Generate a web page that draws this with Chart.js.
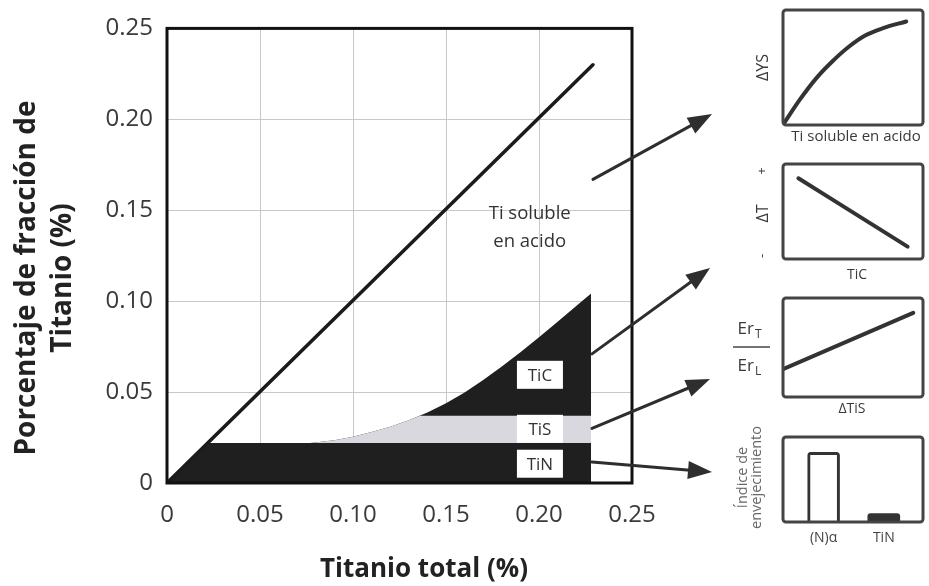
<!DOCTYPE html>
<html>
<head>
<meta charset="utf-8">
<script src="https://cdn.jsdelivr.net/npm/chart.js@4.4.1/dist/chart.umd.min.js"></script>
<style>
html,body{margin:0;padding:0;background:#fff;width:929px;height:586px;overflow:hidden}
canvas{position:absolute}
</style>
</head>
<body>
<canvas id="main" width="929" height="586" style="left:0;top:0"></canvas>
<canvas id="p1" width="209" height="150" style="left:720px;top:0px"></canvas>
<canvas id="p2" width="209" height="140" style="left:720px;top:150px"></canvas>
<canvas id="p3" width="209" height="125" style="left:720px;top:290px"></canvas>
<canvas id="p4" width="209" height="171" style="left:720px;top:415px"></canvas>
<script>
// ---------------- DATA ----------------
const xTickValues = [0, 0.05, 0.10, 0.15, 0.20, 0.25];
const xTickLabels = ['0', '0.05', '0.10', '0.15', '0.20', '0.25'];
const yTickValues = [0, 0.05, 0.10, 0.15, 0.20, 0.25];
const yTickLabels = ['0', '0.05', '0.10', '0.15', '0.20', '0.25'];

// Total Ti line (upper limit of acid-soluble Ti)
const totalTiX = [0, 0.229];
const totalTiY = [0, 0.230];
// TiN band
const tinX = [0, 0.022, 0.228];
const tinY = [0, 0.022, 0.022];
// TiS band (upper boundary)
const tisX = [0.077, 0.09, 0.10, 0.11, 0.12, 0.13, 0.136, 0.228];
const tisY = [0.022, 0.0235, 0.0255, 0.028, 0.031, 0.0345, 0.037, 0.037];
// TiC band (upper boundary)
const ticX = [0.077, 0.09, 0.10, 0.11, 0.12, 0.13, 0.14, 0.15, 0.16, 0.17, 0.18, 0.19, 0.20, 0.21, 0.22, 0.228];
const ticY = [0.022, 0.0235, 0.0255, 0.028, 0.031, 0.0345, 0.0388, 0.0438, 0.0498, 0.0566, 0.0640, 0.0719, 0.0802, 0.0887, 0.0973, 0.1042];

// Side panels (normalised 0..1)
const ysX = [0.01, 0.12, 0.24, 0.35, 0.47, 0.59, 0.71, 0.88];
const ysY = [0.02, 0.22, 0.41, 0.55, 0.68, 0.78, 0.84, 0.90];
const dtX = [0.11, 0.89];
const dtY = [0.85, 0.13];
const erX = [0.0, 0.93];
const erY = [0.28, 0.85];
const agingLabels = ['(N)\u03b1', 'TiN'];
const agingX = [0.29, 0.72];
const agingY = [0.82, 0.10];

// ---------------- ANNOTATIONS ----------------
const regionLabels = [
  {text: 'TiC', x: 0.2005, y: 0.0595},
  {text: 'TiS', x: 0.2005, y: 0.0298},
  {text: 'TiN', x: 0.2005, y: 0.0106}
];
const solubleText = {lines: ['Ti soluble', 'en acido'], x: 0.195, y: 0.148, dy: 0.0154};
const arrowStarts = [[0.229, 0.167], [0.2285, 0.071], [0.2285, 0.030], [0.2285, 0.0115]];
const arrowTips = [[712, 114], [710, 268], [710, 379], [712, 472]];

const FONT = '"Open Sans", "DejaVu Sans", sans-serif';
const pts = (xs, ys) => xs.map((v, i) => ({x: v, y: ys[i]}));

function drawArrow(ctx, x0, y0, x1, y1) {
  const ang = Math.atan2(y1 - y0, x1 - x0);
  const L = 24, W = 9;
  const bx = x1 - L * Math.cos(ang), by = y1 - L * Math.sin(ang);
  ctx.strokeStyle = '#2e2e2e'; ctx.fillStyle = '#2e2e2e'; ctx.lineWidth = 3; ctx.lineCap = 'round';
  ctx.beginPath(); ctx.moveTo(x0, y0); ctx.lineTo(bx + 2 * Math.cos(ang), by + 2 * Math.sin(ang)); ctx.stroke();
  ctx.beginPath();
  ctx.moveTo(x1, y1);
  ctx.lineTo(bx + W * Math.sin(ang), by - W * Math.cos(ang));
  ctx.lineTo(bx - W * Math.sin(ang), by + W * Math.cos(ang));
  ctx.closePath(); ctx.fill();
}

const decorPlugin = {
  id: 'decor',
  afterDraw(chart) {
    const {ctx, chartArea: a, scales: {x, y}} = chart;
    ctx.save();
    // frame
    ctx.lineWidth = 3; ctx.strokeStyle = '#111';
    ctx.strokeRect(a.left, a.top, a.right - a.left, a.bottom - a.top);
    // region labels
    ctx.font = '17px ' + FONT; ctx.textAlign = 'center'; ctx.textBaseline = 'middle';
    regionLabels.forEach(l => {
      const cx = x.getPixelForValue(l.x), cy = y.getPixelForValue(l.y);
      ctx.fillStyle = '#fff'; ctx.fillRect(cx - 23, cy - 14, 46, 28);
      ctx.fillStyle = '#333'; ctx.fillText(l.text, cx, cy + 1);
    });
    // soluble Ti text
    ctx.font = '18.5px ' + FONT; ctx.fillStyle = '#333';
    solubleText.lines.forEach((t, i) => {
      ctx.fillText(t, x.getPixelForValue(solubleText.x), y.getPixelForValue(solubleText.y - i * solubleText.dy));
    });
    // arrows
    arrowStarts.forEach((s, i) => {
      drawArrow(ctx, x.getPixelForValue(s[0]), y.getPixelForValue(s[1]), arrowTips[i][0], arrowTips[i][1]);
    });
    // axis titles
    ctx.fillStyle = '#222'; ctx.font = 'bold 26px ' + FONT;
    ctx.fillText('Titanio total (%)', 424, 570);
    ctx.font = 'bold 28px ' + FONT;
    ctx.save();
    ctx.translate(27, 278); ctx.rotate(-Math.PI / 2);
    ctx.fillText('Porcentaje de fracción de', 0, 0);
    ctx.restore();
    ctx.save();
    ctx.translate(63, 278); ctx.rotate(-Math.PI / 2);
    ctx.fillText('Titanio (%)', 0, 0);
    ctx.restore();
    ctx.restore();
  }
};

const fillDs = (label, xs, ys, color) => ({
  label, data: pts(xs, ys), borderWidth: 1, borderColor: 'rgba(0,0,0,0)',
  backgroundColor: color, pointRadius: 0, fill: 'origin', tension: 0
});

new Chart(document.getElementById('main'), {
  type: 'line',
  data: {
    datasets: [
      {label: 'Ti total', data: pts(totalTiX, totalTiY), borderColor: '#1b1b1b', borderWidth: 3.5, pointRadius: 0, fill: false, borderCapStyle: 'round'},
      fillDs('TiN', tinX, tinY, '#1f1f1f'),
      fillDs('TiS', tisX, tisY, '#d8d8de'),
      fillDs('TiC', ticX, ticY, '#1f1f1f')
    ]
  },
  options: {
    responsive: false, animation: false, devicePixelRatio: 1,
    layout: {padding: {left: 0, right: 297, top: 25, bottom: 0}},
    plugins: {legend: {display: false}, tooltip: {enabled: false}},
    scales: {
      x: {
        type: 'linear', min: 0, max: 0.25,
        afterBuildTicks: s => { s.ticks = xTickValues.map(v => ({value: v})); },
        afterFit: s => { s.height = 103; },
        ticks: {callback: (v, i) => xTickLabels[i], font: {family: FONT, size: 24}, color: '#3a3a3a', padding: 18, maxRotation: 0, autoSkip: false},
        grid: {color: '#c8c8c8', lineWidth: 1, drawTicks: false},
        border: {display: false}
      },
      y: {
        type: 'linear', min: 0, max: 0.25,
        afterBuildTicks: s => { s.ticks = yTickValues.map(v => ({value: v})); },
        afterFit: s => { s.width = 167; },
        ticks: {callback: (v, i) => yTickLabels[i], font: {family: FONT, size: 24}, color: '#3a3a3a', padding: 14, autoSkip: false},
        grid: {color: '#c8c8c8', lineWidth: 1, drawTicks: false},
        border: {display: false}
      }
    }
  },
  plugins: [decorPlugin]
});

// ---------------- SIDE PANELS ----------------
function frame(ctx, a) {
  ctx.save();
  ctx.lineWidth = 3; ctx.strokeStyle = '#444';
  ctx.beginPath();
  ctx.roundRect(a.left, a.top, a.right - a.left, a.bottom - a.top, 3);
  ctx.stroke();
  ctx.restore();
}
function rotText(ctx, t, x, y) {
  ctx.save(); ctx.translate(x, y); ctx.rotate(-Math.PI / 2); ctx.fillText(t, 0, 0); ctx.restore();
}
function panel(id, type, datasets, pad, drawText) {
  return new Chart(document.getElementById(id), {
    type,
    data: {datasets},
    options: {
      responsive: false, animation: false, devicePixelRatio: 1,
      layout: {padding: pad},
      plugins: {legend: {display: false}, tooltip: {enabled: false}},
      scales: {
        x: {type: 'linear', min: 0, max: 1, display: false, offset: false},
        y: {type: 'linear', min: 0, max: 1, display: false}
      }
    },
    plugins: [{
      id: id + 'deco',
      afterDraw(chart) {
        const ctx = chart.ctx, a = chart.chartArea;
        frame(ctx, a);
        ctx.save();
        ctx.fillStyle = '#3a3a3a'; ctx.textAlign = 'center'; ctx.textBaseline = 'middle';
        drawText(ctx, a, chart);
        ctx.restore();
      }
    }]
  });
}
const lineDs = (xs, ys, w) => ({data: pts(xs, ys), borderColor: '#333', borderWidth: w, pointRadius: 0, fill: false, borderCapStyle: 'round', cubicInterpolationMode: 'monotone'});

panel('p1', 'line', [lineDs(ysX, ysY, 4)], {left: 63, right: 6, top: 10, bottom: 25}, (ctx, a) => {
  const mx = (a.left + a.right) / 2, my = (a.top + a.bottom) / 2;
  ctx.font = '16px ' + FONT; rotText(ctx, '\u0394YS', a.left - 20, my);
  ctx.font = '15px ' + FONT; ctx.fillText('Ti soluble en acido', mx + 3, a.bottom + 12);
});
panel('p2', 'line', [lineDs(dtX, dtY, 4)], {left: 63, right: 6, top: 14, bottom: 31}, (ctx, a) => {
  const mx = (a.left + a.right) / 2, my = (a.top + a.bottom) / 2;
  ctx.font = '16px ' + FONT; rotText(ctx, '\u0394T', a.left - 20, my + 2);
  ctx.font = '13px ' + FONT; rotText(ctx, '+', a.left - 21, a.top + 7); rotText(ctx, '-', a.left - 21, a.bottom - 3);
  ctx.font = '14px ' + FONT; ctx.fillText('TiC', mx + 4, a.bottom + 16);
});
panel('p3', 'line', [lineDs(erX, erY, 4)], {left: 63, right: 6, top: 8, bottom: 18}, (ctx, a) => {
  const mx = (a.left + a.right) / 2;
  const fx = a.left - 33;
  ctx.font = '17px ' + FONT; ctx.textAlign = 'right';
  ctx.fillText('Er', fx + 4, a.top + 31); ctx.fillText('Er', fx + 4, a.top + 68);
  ctx.font = '12px ' + FONT; ctx.textAlign = 'left';
  ctx.fillText('T', fx + 5, a.top + 37); ctx.fillText('L', fx + 5, a.top + 74);
  ctx.strokeStyle = '#444'; ctx.lineWidth = 1.5;
  ctx.beginPath(); ctx.moveTo(a.left - 50, a.top + 49); ctx.lineTo(a.left - 13, a.top + 49); ctx.stroke();
  ctx.textAlign = 'center'; ctx.font = '14px ' + FONT;
  ctx.fillText('\u0394TiS', mx - 1, a.bottom + 12);
});
panel('p4', 'bar', [{
  data: pts(agingX, agingY), backgroundColor: ['#ffffff', '#333333'], borderColor: '#333',
  borderWidth: [3, 0], barThickness: 32, borderRadius: 3
}], {left: 63, right: 6, top: 22, bottom: 64}, (ctx, a, chart) => {
  const my = (a.top + a.bottom) / 2;
  ctx.fillStyle = '#666'; ctx.font = '14.5px ' + FONT;
  rotText(ctx, '\u00cdndice de', a.left - 40, my - 2);
  rotText(ctx, 'envejecimiento', a.left - 26, my - 2);
  ctx.fillStyle = '#444'; ctx.font = '14px ' + FONT;
  agingLabels.forEach((t, i) => ctx.fillText(t, chart.scales.x.getPixelForValue(agingX[i]), a.bottom + 16));
});
</script>
</body>
</html>
